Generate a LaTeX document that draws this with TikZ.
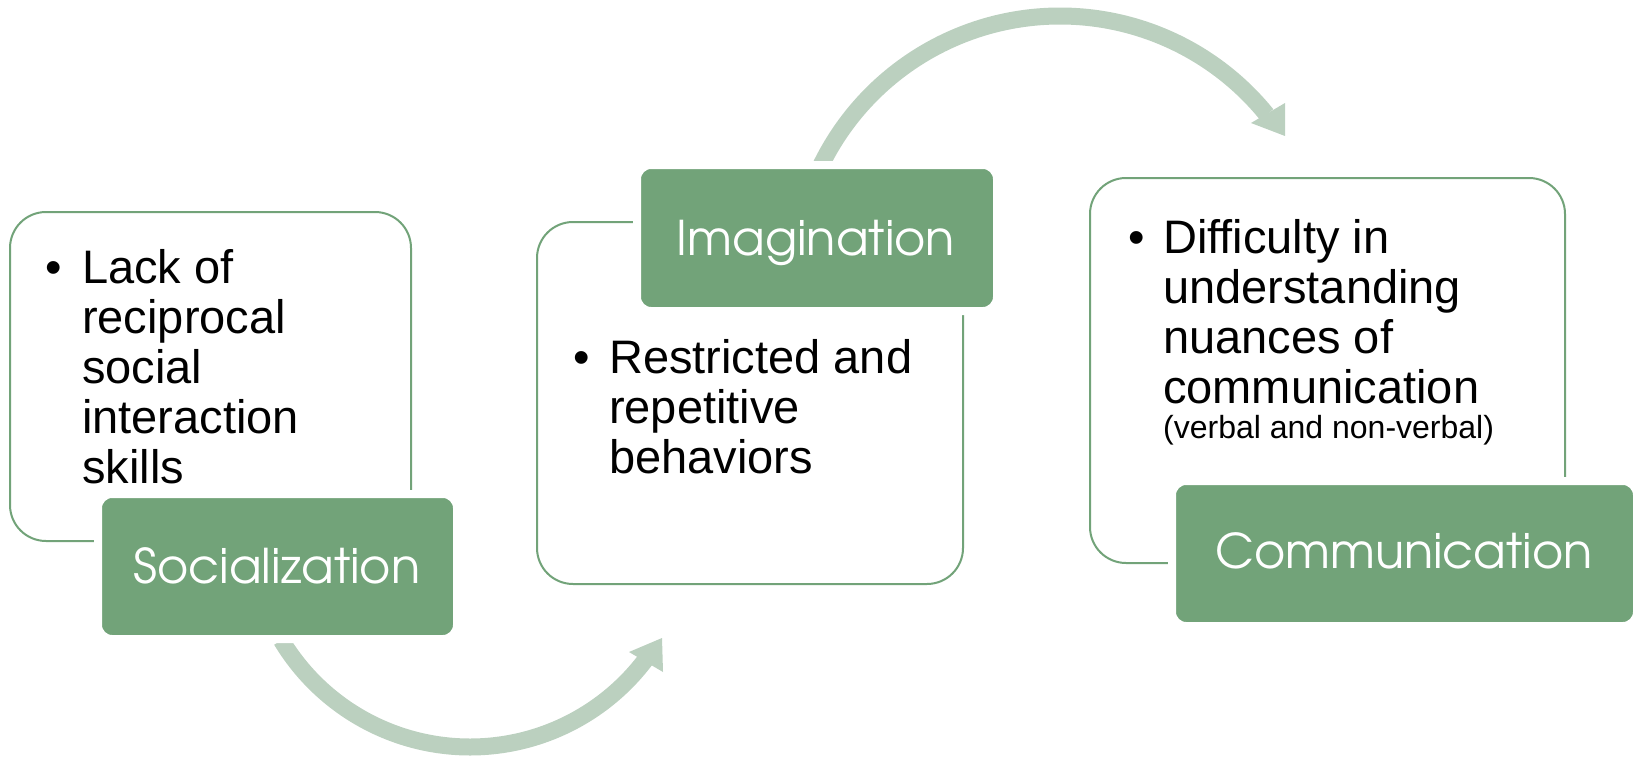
\documentclass[tikz,border=0pt]{standalone}
\usepackage{fontspec}
\setmainfont{Liberation Sans}
\newfontfamily\gothic{TeX Gyre Adventor}
\definecolor{boxgreen}{RGB}{114,163,121}
\definecolor{arrowgreen}{RGB}{187,208,191}
\begin{document}
\begin{tikzpicture}[x=1pt,y=-1pt,
  whitebox/.style={draw=boxgreen,line width=2pt,fill=white,rounded corners=36pt,inner sep=0pt},
  greenbox/.style={draw=white,line width=8pt,fill=boxgreen,rounded corners=14pt,inner sep=0pt},
  titletext/.style={anchor=base,inner sep=0pt,text=white,font=\gothic\fontsize{47.8}{57}\selectfont},
  bodytext/.style={anchor=base west,inner sep=0pt,font=\fontsize{47}{50}\selectfont},
  band/.style={draw=arrowgreen,line width=17pt},
  head/.style={fill=arrowgreen}]
\useasboundingbox (0,0) rectangle (1635,757);
% arrows
\draw[band] (470,527) ++(149:220) arc[start angle=149,end angle=37,radius=220];
\fill[head] (629,652) -- (662,638) -- (663,672) -- cycle;
\draw[band] (1060,282) ++(-154:266) arc[start angle=-154,end angle=-39,radius=266];
\fill[head] (1285,103) -- (1251,123) -- (1285,136) -- cycle;
% white boxes
\node[whitebox,minimum width=401pt,minimum height=329pt] (boxA) at (210.5,376.5) {};
\node[whitebox,minimum width=426pt,minimum height=362pt] (boxB) at (750,403) {};
\node[whitebox,minimum width=475pt,minimum height=385pt] (boxC) at (1327.5,370.5) {};
% green boxes
\node[greenbox,minimum width=359pt,minimum height=145pt] (gA) at (277.5,566.5) {};
\node[greenbox,minimum width=360pt,minimum height=146pt] (gB) at (817,238) {};
\node[greenbox,minimum width=465pt,minimum height=145pt] (gC) at (1404.5,553.5) {};
\node[titletext] (tA) at (277,583) {Socialization};
\node[titletext] (tB) at (816,255) {Imagination};
\node[titletext] (tC) at (1404,568) {Communication};
% body texts
\node[bodytext] (xA) at (45,283) {\parbox[t]{360pt}{\hangindent=37pt\hangafter=1
  \makebox[37pt][l]{•}Lack of\\reciprocal\\social\\interaction\\skills}};
\node[bodytext] (xB) at (573,373) {\parbox[t]{390pt}{\hangindent=36pt\hangafter=1
  \makebox[36pt][l]{•}Restricted and\\repetitive\\behaviors}};
\node[bodytext] (xC) at (1128,253) {\parbox[t]{420pt}{\hangindent=35pt\hangafter=1
  \makebox[35pt][l]{•}Difficulty in\\understanding\\nuances of\\communication\\[-15pt]{\fontsize{32}{35}\selectfont (verbal and non-verbal)}}};
\end{tikzpicture}
\end{document}
